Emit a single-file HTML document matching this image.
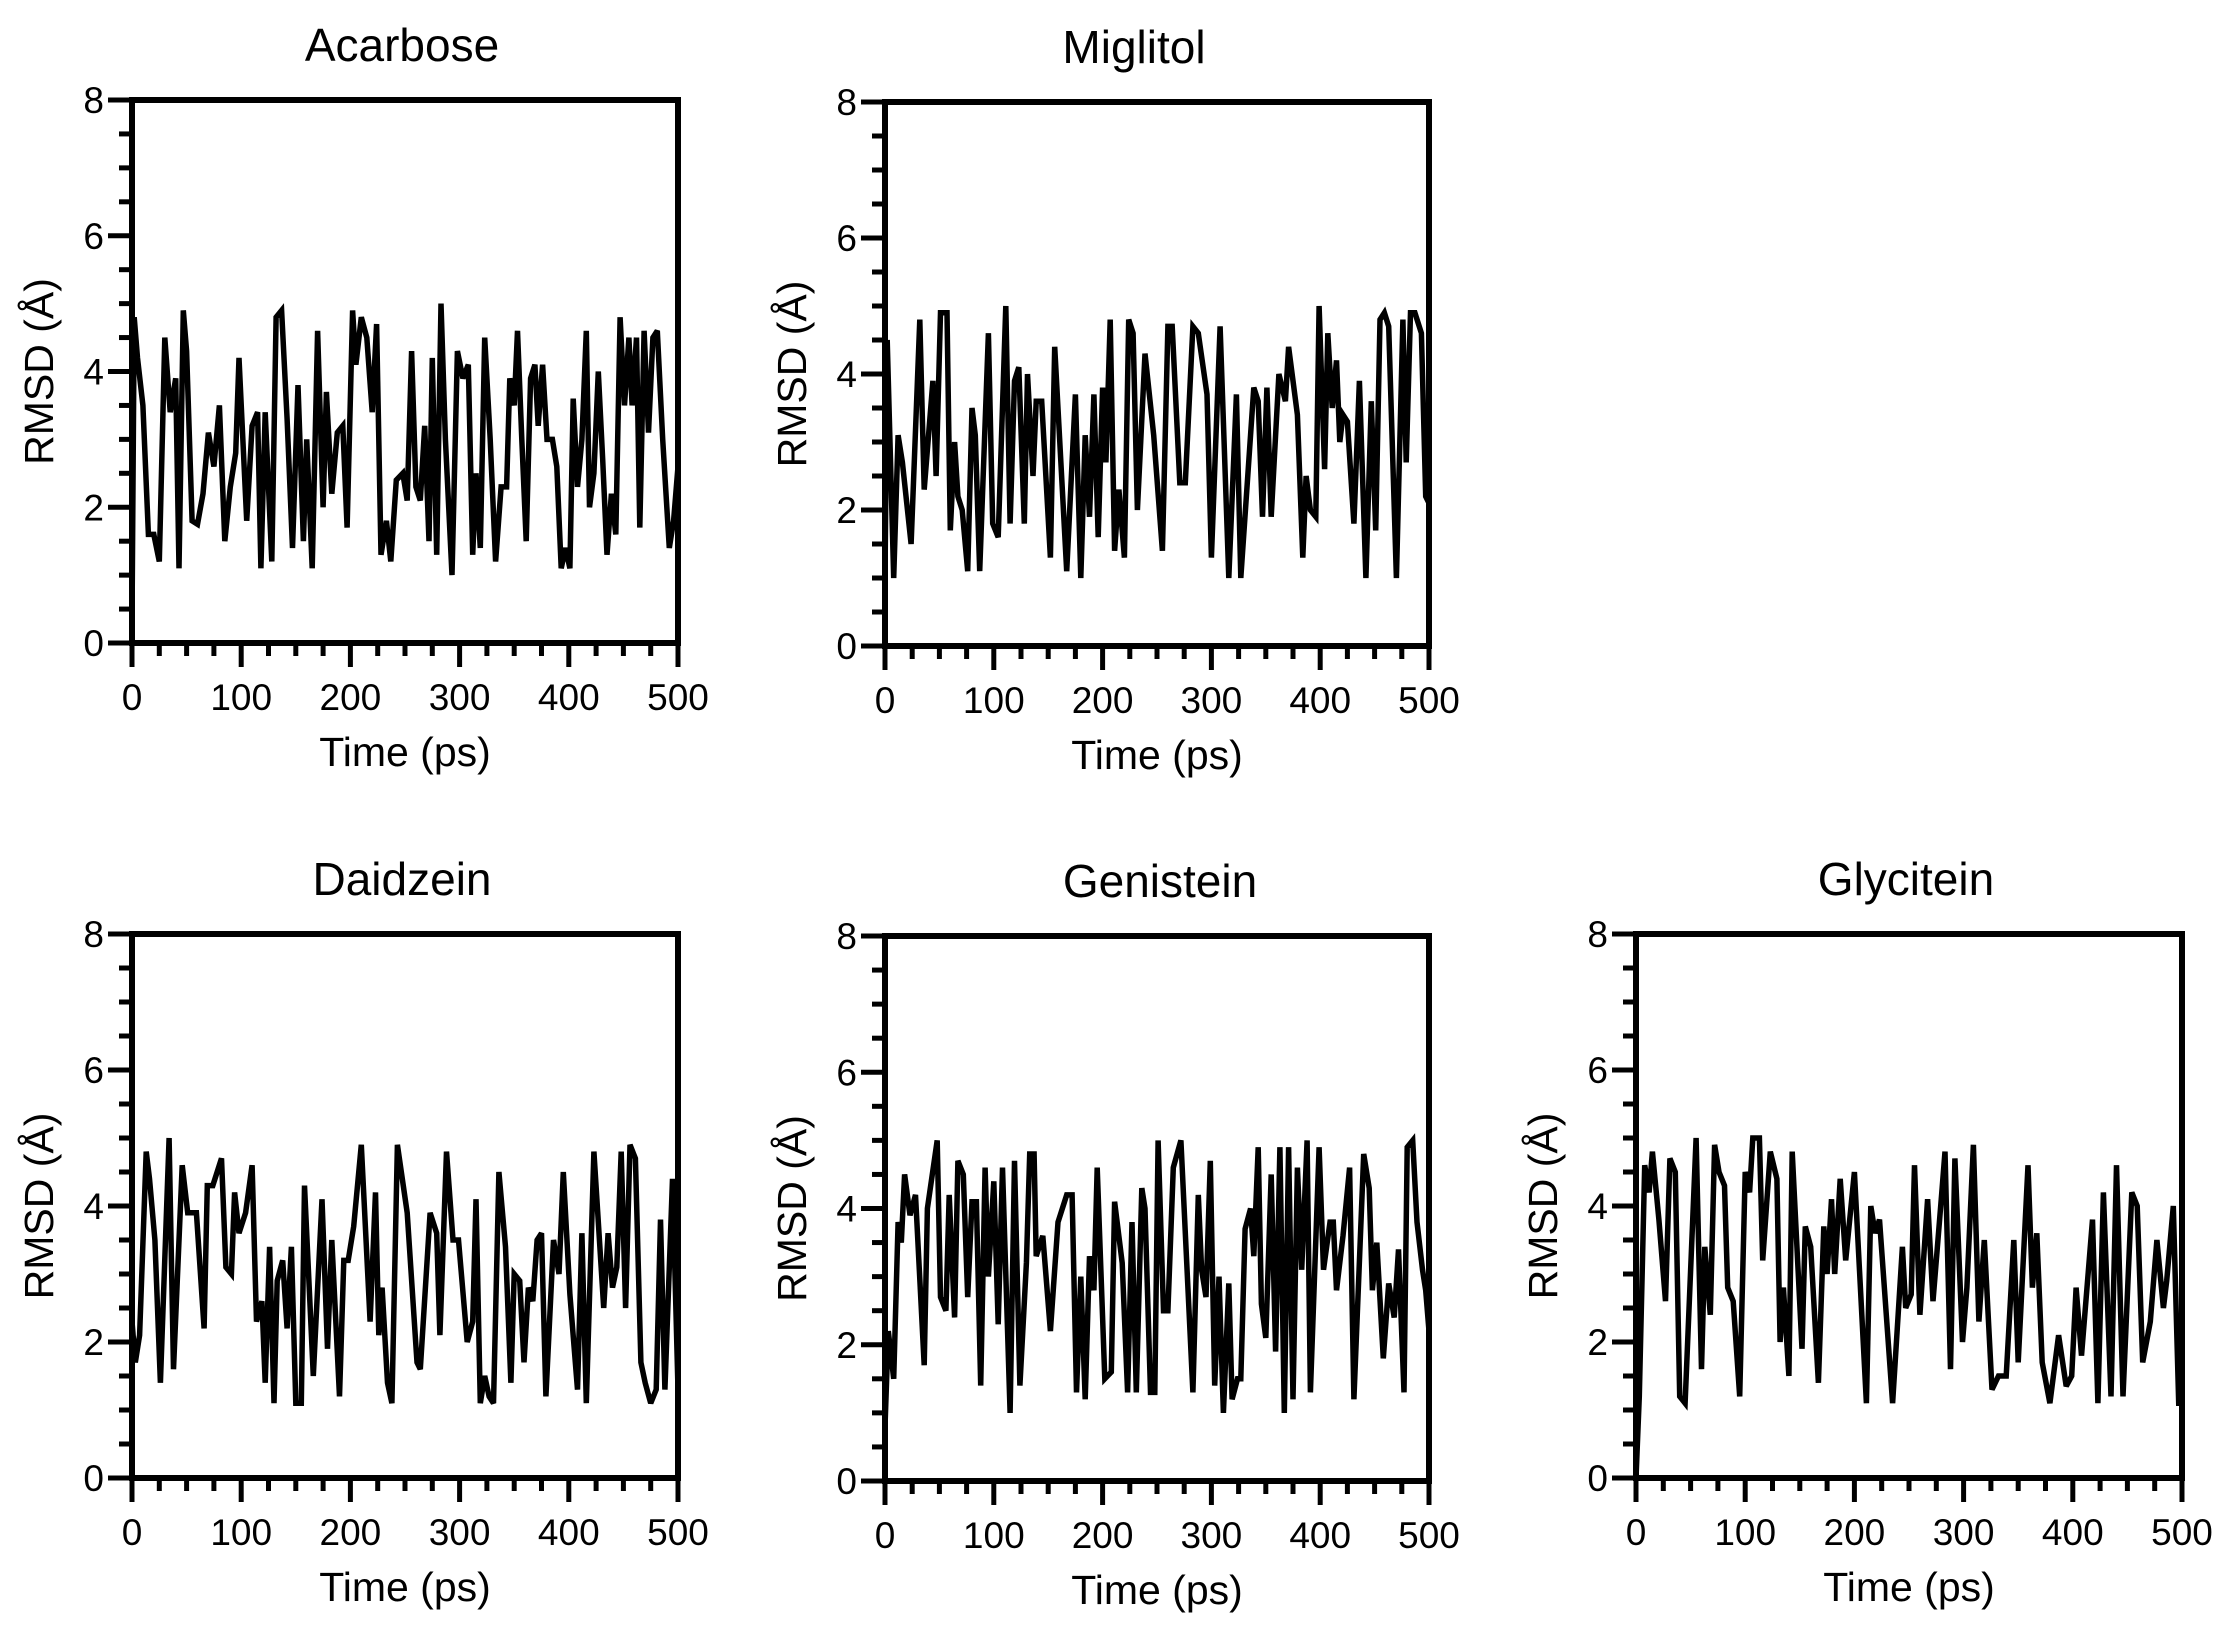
<!DOCTYPE html>
<html><head><meta charset="utf-8"><style>
html,body{margin:0;padding:0;background:#fff}
svg{display:block}
text{font-family:"Liberation Sans",Arial,sans-serif;fill:#000}
</style></head><body>
<svg id="fig" width="2230" height="1628" viewBox="0 0 2230 1628" xmlns="http://www.w3.org/2000/svg"></svg>
<script>
const xTicks=[0,100,200,300,400,500];
const yTicks=[0,2,4,6,8];
const panelNames=["Acarbose","Miglitol","Daidzein","Genistein","Glycitein"];
const acarboseT=[0,2,5,10,15,20,25,30,35,40,43,47,50,55,60,65,70,75,80,85,90,95,98,105,110,115,118,122,128,132,137,142,147,152,157,160,165,170,175,178,183,188,193,197,202,205,210,215,220,224,228,233,237,242,248,252,256,260,264,268,272,275,279,283,287,293,298,303,308,312,315,319,323,328,333,338,343,346,350,353,357,361,365,369,372,376,380,385,389,393,397,401,404,408,412,416,419,423,427,431,435,439,443,447,451,455,458,462,465,469,473,477,481,486,492,496,500];
const acarboseV=[0.3,4.8,4.2,3.5,1.6,1.6,1.2,4.5,3.4,3.9,1.1,4.9,4.3,1.8,1.75,2.2,3.1,2.6,3.5,1.5,2.3,2.8,4.2,1.8,3.2,3.4,1.1,3.4,1.2,4.8,4.9,3.3,1.4,3.8,1.5,3.0,1.1,4.6,2.0,3.7,2.2,3.1,3.2,1.7,4.9,4.1,4.8,4.5,3.4,4.7,1.3,1.8,1.2,2.4,2.5,2.1,4.3,2.3,2.1,3.2,1.5,4.2,1.3,5.0,3.0,1.0,4.3,3.9,4.1,1.3,2.5,1.4,4.5,3.0,1.2,2.3,2.3,3.9,3.5,4.6,3.0,1.5,3.9,4.1,3.2,4.1,3.0,3.0,2.6,1.1,1.4,1.1,3.6,2.3,3.0,4.6,2.0,2.5,4.0,2.7,1.3,2.2,1.6,4.8,3.5,4.5,3.5,4.5,1.7,4.6,3.1,4.5,4.6,3.0,1.4,1.8,2.6];
const miglitolT=[0,2,8,12,16,24,32,36,44,47,51,57,60,64,67,71,76,80,83,87,95,99,104,111,115,119,123,128,131,136,139,144,152,156,167,175,180,184,188,192,196,200,203,207,211,215,220,224,228,232,239,247,255,260,264,271,276,283,288,296,300,308,316,323,327,339,343,347,351,355,362,368,371,379,384,387,391,396,399,404,407,411,415,418,421,425,431,436,442,447,451,455,459,463,470,476,479,483,487,493,497,500];
const miglitolV=[1.0,4.5,1.0,3.1,2.7,1.5,4.8,2.3,3.9,2.5,4.9,4.9,1.7,3.0,2.2,2.0,1.1,3.5,3.1,1.1,4.6,1.8,1.6,5.0,1.8,3.9,4.1,1.8,4.0,2.5,3.6,3.6,1.3,4.4,1.1,3.7,1.0,3.1,1.9,3.7,1.6,3.8,2.7,4.8,1.4,2.3,1.3,4.8,4.6,2.0,4.3,3.1,1.4,4.7,4.7,2.4,2.4,4.7,4.6,3.7,1.3,4.7,1.0,3.7,1.0,3.8,3.6,1.9,3.8,1.9,4.0,3.6,4.4,3.4,1.3,2.5,2.0,1.9,5.0,2.6,4.6,3.5,4.2,3.0,3.4,3.3,1.8,3.9,1.0,3.6,1.7,4.8,4.9,4.7,1.0,4.8,2.7,4.9,4.9,4.6,2.2,2.1];
const daidzeinT=[0,3,7,13,16,21,26,34,38,46,51,59,66,69,74,82,86,91,94,98,104,110,114,119,122,126,130,133,138,142,146,150,155,158,166,174,179,183,190,194,198,203,210,218,223,226,229,234,238,243,252,261,264,273,279,282,288,294,299,307,312,315,319,323,327,331,336,342,347,350,355,359,363,367,371,375,379,386,391,395,401,408,412,416,423,432,436,440,444,448,452,456,461,466,470,475,480,484,488,495,500];
const daidzeinV=[2.3,1.7,2.1,4.8,4.4,3.5,1.4,5.0,1.6,4.6,3.9,3.9,2.2,4.3,4.3,4.7,3.1,3.0,4.2,3.6,3.9,4.6,2.3,2.6,1.4,3.4,1.1,2.9,3.2,2.2,3.4,1.1,1.1,4.3,1.5,4.1,1.9,3.5,1.2,3.2,3.2,3.7,4.9,2.3,4.2,2.1,2.8,1.4,1.1,4.9,3.9,1.7,1.6,3.9,3.6,2.1,4.8,3.5,3.5,2.0,2.3,4.1,1.1,1.5,1.2,1.1,4.5,3.4,1.4,3.0,2.9,1.7,2.8,2.6,3.5,3.6,1.2,3.5,3.0,4.5,2.7,1.3,3.6,1.1,4.8,2.5,3.6,2.8,3.1,4.8,2.5,4.9,4.7,1.7,1.4,1.1,1.3,3.8,1.3,4.4,1.3];
const genisteinT=[0,3,8,12,15,18,23,28,36,39,48,51,56,59,64,67,72,76,80,84,88,92,95,100,104,108,115,119,124,130,133,137,139,145,152,159,167,172,176,180,184,188,192,195,202,208,211,218,223,227,231,236,239,244,248,251,256,260,265,272,283,288,291,295,299,303,307,311,316,319,324,327,331,336,339,343,346,350,355,359,363,367,371,375,379,383,388,391,399,403,409,412,415,421,427,431,440,445,448,452,458,463,468,472,477,480,485,489,494,497,500];
const genisteinV=[0.8,2.2,1.5,3.8,3.5,4.5,3.9,4.2,1.7,4.0,5.0,2.7,2.5,4.2,2.4,4.7,4.5,2.7,4.1,4.1,1.4,4.6,3.0,4.4,2.3,4.6,1.0,4.7,1.4,3.2,4.8,4.8,3.3,3.6,2.2,3.8,4.2,4.2,1.3,3.0,1.2,3.3,2.8,4.6,1.5,1.6,4.1,3.2,1.3,3.8,1.3,4.3,4.0,1.3,1.3,5.0,2.5,2.5,4.6,5.0,1.3,4.2,3.1,2.7,4.7,1.4,3.0,1.0,2.9,1.2,1.5,1.5,3.7,4.0,3.3,4.9,2.6,2.1,4.5,1.9,4.9,1.0,4.9,1.2,4.6,3.1,5.0,1.3,4.9,3.1,3.8,3.8,2.8,3.6,4.6,1.2,4.8,4.3,2.8,3.5,1.8,2.9,2.4,3.4,1.3,4.9,5.0,3.8,3.1,2.8,2.2];
const glyciteinT=[0,3,8,12,15,21,27,31,36,40,45,55,60,63,68,72,76,81,84,89,95,100,104,107,113,116,123,129,132,135,140,143,152,155,160,167,172,175,179,182,187,192,200,211,215,219,223,235,244,247,252,255,260,267,272,280,283,288,292,299,303,309,314,319,326,332,339,346,350,359,363,367,372,379,387,394,399,403,408,418,423,428,435,440,446,454,459,464,471,477,483,486,492,497,500];
const glyciteinV=[0,1.2,4.6,4.2,4.8,3.8,2.6,4.7,4.5,1.2,1.1,5.0,1.6,3.4,2.4,4.9,4.5,4.3,2.8,2.6,1.2,4.5,4.2,5.0,5.0,3.2,4.8,4.4,2.0,2.8,1.5,4.8,1.9,3.7,3.4,1.4,3.7,3.0,4.1,3.0,4.4,3.2,4.5,1.1,4.0,3.6,3.8,1.1,3.4,2.5,2.7,4.6,2.4,4.1,2.6,4.2,4.8,1.6,4.7,2.0,2.8,4.9,2.3,3.5,1.3,1.5,1.5,3.5,1.7,4.6,2.8,3.6,1.7,1.1,2.1,1.35,1.5,2.8,1.8,3.8,1.1,4.2,1.2,4.6,1.2,4.2,4.0,1.7,2.3,3.5,2.5,2.9,4.0,1.1,1.1];

const NS="http://www.w3.org/2000/svg";
const svg=document.getElementById('fig');
function mk(tag,attrs,parent){const e=document.createElementNS(NS,tag);for(const k in attrs)e.setAttribute(k,attrs[k]);(parent||svg).appendChild(e);return e;}

const panels=[
 {name:panelNames[0],T:acarboseT,V:acarboseV,L:132,R:678,Tp:100,B:643,tx:402},
 {name:panelNames[1],T:miglitolT,V:miglitolV,L:885,R:1429,Tp:102,B:646,tx:1134},
 {name:panelNames[2],T:daidzeinT,V:daidzeinV,L:132,R:678,Tp:934,B:1478,tx:402},
 {name:panelNames[3],T:genisteinT,V:genisteinV,L:885,R:1429,Tp:936,B:1481,tx:1160},
 {name:panelNames[4],T:glyciteinT,V:glyciteinV,L:1636,R:2182,Tp:934,B:1478,tx:1906}
];

panels.forEach(p=>{
  const slug=p.name.toLowerCase();
  const g=mk('g',{});
  
  
  const xs=t=>p.L+(t/500)*(p.R-p.L);
  const ys=v=>p.B-(v/8)*(p.B-p.Tp);
  const ti=mk('text',{x:p.tx,y:p.Tp-39,'text-anchor':'middle','font-size':46},g);
  ti.textContent=p.name;
  
  
  let d='';
  p.T.forEach((t,i)=>{d+=(i?'L':'M')+xs(t).toFixed(1)+' '+ys(p.V[i]).toFixed(1);});
  const ln=mk('path',{d:d,fill:'none',stroke:'#000','stroke-width':5.5,'stroke-linejoin':'miter','stroke-miterlimit':3},g);
  
  
  const fr=mk('rect',{x:p.L,y:p.Tp,width:p.R-p.L,height:p.B-p.Tp,fill:'none',stroke:'#000','stroke-width':6},g);
  
  
  const yt=mk('g',{},g);
  
  
  for(let k=0;k<=16;k++){
    const v=k*0.5;const major=(k%4===0);
    mk('line',{x1:p.L-(major?24:13),x2:p.L,y1:ys(v),y2:ys(v),stroke:'#000','stroke-width':5},yt);
  }
  yTicks.forEach(v=>{
    const tl=mk('text',{x:p.L-28,y:ys(v)+13,'text-anchor':'end','font-size':37},yt);
    tl.textContent=v;
    
    
  });
  const xt=mk('g',{},g);
  
  
  for(let k=0;k<=20;k++){
    const t=k*25;const major=(k%4===0);
    mk('line',{x1:xs(t),x2:xs(t),y1:p.B,y2:p.B+(major?24:13),stroke:'#000','stroke-width':5},xt);
  }
  xTicks.forEach(t=>{
    const tl=mk('text',{x:xs(t),y:p.B+67,'text-anchor':'middle','font-size':37},xt);
    tl.textContent=t;
    
    
  });
  const xl=mk('text',{x:(p.L+p.R)/2,y:p.B+123,'text-anchor':'middle','font-size':41},g);
  xl.textContent='Time (ps)';
  
  
  const cy=(p.Tp+p.B)/2;
  const yl=mk('text',{x:p.L-90,y:cy,'text-anchor':'middle','font-size':41,transform:'rotate(-90 '+(p.L-90)+' '+cy+')','dominant-baseline':'middle'},g);
  yl.textContent='RMSD (Å)';
  
  
});
</script>
</body></html>
